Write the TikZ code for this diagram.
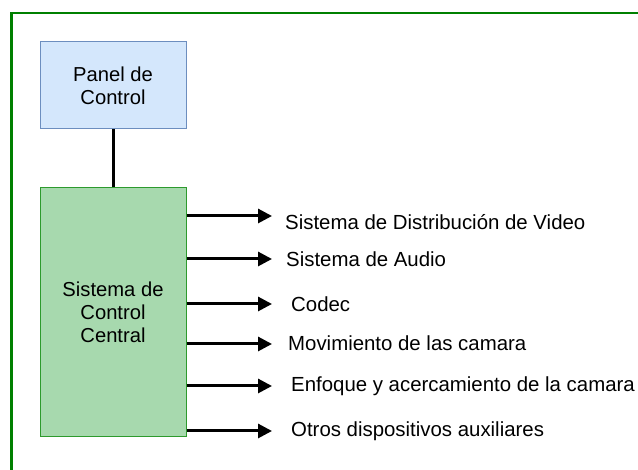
\documentclass[tikz,border=0pt]{standalone}
\usepackage{fontspec}
\setmainfont{Liberation Sans}
\usetikzlibrary{arrows.meta}
\definecolor{panelfill}{HTML}{D4E7FC}
\definecolor{paneldraw}{HTML}{6C8EBF}
\definecolor{centralfill}{HTML}{A7D9AE}
\definecolor{centraldraw}{HTML}{2D9A2D}
\definecolor{framegreen}{HTML}{008000}
\tikzset{
  blockbox/.style={draw, line width=1pt, minimum width=146pt, align=center, inner sep=0pt, font=\fontsize{20.2}{23}\selectfont},
  outarrow/.style={line width=3pt, -{Triangle[length=14pt,width=14pt]}},
  outlabel/.style={anchor=west, inner sep=0pt, font=\fontsize{20.4}{23}\selectfont}
}
\begin{document}
\begin{tikzpicture}[x=1pt,y=1pt]
\useasboundingbox (0,0) rectangle (638,470);
\clip (0,0) rectangle (638,470);
% outer frame (only top and left edges in view)
\draw [framegreen, line width=2.4pt] (11.5,-20) -- (11.5,457) -- (660,457);
\node (panel) [blockbox, fill=panelfill, draw=paneldraw, minimum height=87pt] at (113,384.5) {Panel de\\Control};
\node (central) [blockbox, fill=centralfill, draw=centraldraw, minimum height=249pt] at (113,157.5) {Sistema de\\Control\\Central};
\draw [line width=3pt] (panel) -- (central);
% arrow tips
\coordinate (t1) at (272,254);
\coordinate (t2) at (272,211);
\coordinate (t3) at (272,166);
\coordinate (t4) at (272,126);
\coordinate (t5) at (272,84);
\coordinate (t6) at (272,39);
\draw [outarrow] (central.east |- t1) -- (t1);
\draw [outarrow] (central.east |- t2) -- (t2);
\draw [outarrow] (central.east |- t3) -- (t3);
\draw [outarrow] (central.east |- t4) -- (t4);
\draw [outarrow] (central.east |- t5) -- (t5);
\draw [outarrow] (central.east |- t6) -- (t6);
\node (video) [outlabel] at (285,248) {Sistema de Distribución de Video};
\node (audio) [outlabel] at (286,211) {Sistema de Audio};
\node (codec) [outlabel] at (291,166) {Codec};
\node (mov) [outlabel] at (288,127) {Movimiento de las camara};
\node (enfoque) [outlabel] at (291,84) {Enfoque y acercamiento de la camara};
\node (otros) [outlabel] at (291,39) {Otros dispositivos auxiliares};
\end{tikzpicture}
\end{document}
